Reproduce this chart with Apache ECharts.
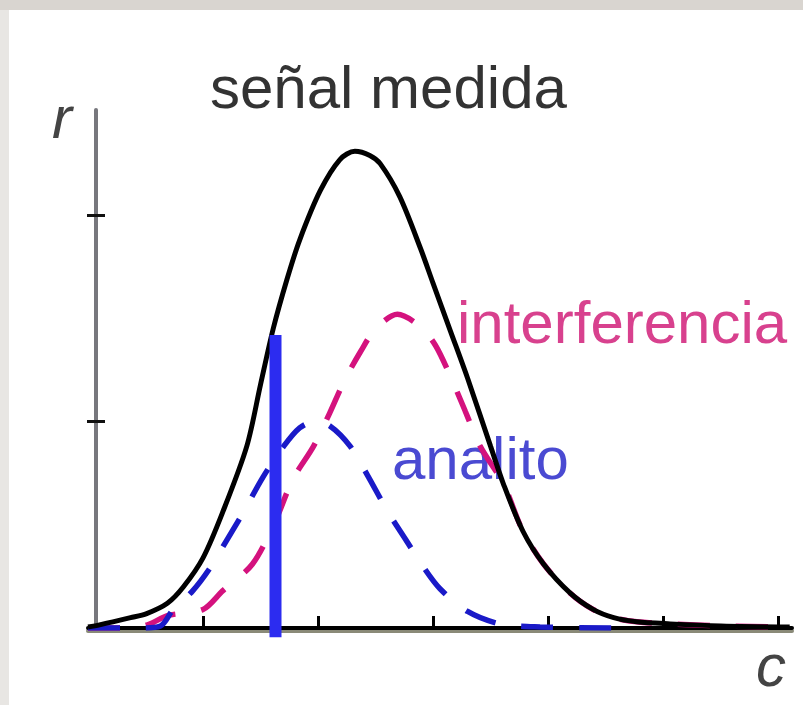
<!DOCTYPE html>
<html><head><meta charset="utf-8">
<script src="https://cdn.jsdelivr.net/npm/echarts@6/dist/echarts.min.js"></script>
<style>
html,body{margin:0;padding:0;background:#dcd9d4;}
#wrap{position:relative;width:803px;height:705px;background:#d9d5d0;overflow:hidden}
#lstrip{position:absolute;left:0;top:10px;width:9px;bottom:0;background:#e8e6e3}
#panel{position:absolute;left:9px;top:10px;right:0;bottom:0;background:#fff}
#chart{position:absolute;left:0;top:0;width:803px;height:705px}
</style></head><body>
<div id="wrap"><div id="lstrip"></div><div id="panel"></div><div id="chart"></div></div>
<script>
// señal medida (black solid)
const senalX = [0, 0.10, 0.37, 0.51, 0.69, 0.83, 1.0, 1.17, 1.38, 1.5, 1.61, 1.73, 1.84, 2.02, 2.19, 2.32, 2.45, 2.54, 2.71, 2.89, 3.0, 3.15, 3.3, 3.5, 3.61, 3.78, 3.96, 4.19, 4.39, 4.57, 4.77, 5.06, 5.5, 6.1];
const senalY = [0.005, 0.015, 0.05, 0.07, 0.12, 0.2, 0.34, 0.56, 0.88, 1.18, 1.45, 1.69, 1.88, 2.12, 2.27, 2.31, 2.29, 2.25, 2.09, 1.84, 1.67, 1.44, 1.21, 0.88, 0.7, 0.47, 0.31, 0.17, 0.09, 0.05, 0.03, 0.02, 0.01, 0.005];
// interferencia (pink dashed)
const interfX = [0, 0.4, 0.54, 0.69, 1.0, 1.17, 1.43, 1.63, 1.78, 1.96, 2.1, 2.23, 2.37, 2.5, 2.69, 2.89, 3.02, 3.15, 3.28, 3.41, 3.61, 3.78, 3.96, 4.19, 4.39, 4.57, 4.77, 5.06, 5.5, 6.1];
const interfY = [0, 0, 0.02, 0.06, 0.09, 0.18, 0.31, 0.52, 0.72, 0.88, 1.04, 1.2, 1.34, 1.45, 1.52, 1.46, 1.37, 1.22, 1.05, 0.88, 0.7, 0.47, 0.31, 0.17, 0.09, 0.05, 0.03, 0.02, 0.01, 0.005];
// analito (blue dashed)
const analitoX = [0, 0.45, 0.63, 0.74, 0.91, 1.06, 1.19, 1.35, 1.52, 1.7, 1.84, 1.97, 2.1, 2.28, 2.43, 2.6, 2.76, 2.91, 3.06, 3.3, 3.58, 3.93, 4.57];
const analitoY = [0, 0, 0.01, 0.09, 0.18, 0.29, 0.41, 0.56, 0.73, 0.88, 0.97, 1.0, 0.98, 0.88, 0.74, 0.57, 0.43, 0.3, 0.19, 0.08, 0.02, 0.005, 0];
// vertical bar (analyte at measured concentration)
const barX = [1.63, 1.63];
const barY = [-0.045, 1.42];
const xTicks = [1, 2, 3, 4, 5, 6];
const yTicks = [1, 2];

const zip = (a, b) => a.map((v, i) => [v, b[i]]);
const chart = echarts.init(document.getElementById('chart'), null, {renderer: 'canvas'});
const FONT = '"Liberation Sans", Arial, sans-serif';
const yBase = {
  type: 'value', min: 0, max: 2.51, interval: 1, offset: -8, position: 'left',
  axisLabel: {show: false}, splitLine: {show: false}
};
chart.setOption({
  animation: false,
  backgroundColor: 'transparent',
  grid: {left: 88, right: 11, top: 110, bottom: 77},
  xAxis: {
    type: 'value', min: 0, max: 6.12, interval: 1,
    axisLine: {lineStyle: {color: '#000', width: 4, shadowColor: 'rgba(125,125,105,0.9)', shadowOffsetY: 3}},
    axisTick: {show: true, inside: true, length: 12, customValues: xTicks, lineStyle: {color: '#000', width: 3}},
    axisLabel: {show: false}, splitLine: {show: false}
  },
  yAxis: [
    Object.assign({}, yBase, {
      axisLine: {show: true, onZero: false, lineStyle: {color: '#77777d', width: 4}},
      axisTick: {show: true, length: 9, customValues: yTicks, lineStyle: {color: '#111', width: 3}}
    }),
    Object.assign({}, yBase, {
      axisLine: {show: false, onZero: false},
      axisTick: {show: true, inside: true, length: 9, customValues: yTicks, lineStyle: {color: '#111', width: 3}}
    })
  ],
  series: [
    {type: 'line', data: zip(interfX, interfY), showSymbol: false, smooth: 0.3, z: 3,
     lineStyle: {color: '#d4127e', width: 5.5, type: [32, 26]}},
    {type: 'line', data: zip(analitoX, analitoY), showSymbol: false, smooth: 0.3, z: 3,
     lineStyle: {color: '#1a1ac8', width: 5.5, type: [32, 26]}},
    {type: 'line', data: zip(senalX, senalY), showSymbol: false, smooth: 0.3, z: 4,
     lineStyle: {color: '#000', width: 5}},
    {type: 'line', data: zip(barX, barY), showSymbol: false, clip: false, z: 5,
     lineStyle: {color: '#2c2cf0', width: 12, cap: 'butt'}}
  ],
  graphic: [
    {type: 'text', x: 210, y: 91, style: {text: 'señal medida', font: '60px ' + FONT, fill: '#333', verticalAlign: 'middle'}},
    {type: 'text', x: 457, y: 326, style: {text: 'interferencia', font: '60px ' + FONT, fill: '#d8418e', verticalAlign: 'middle'}},
    {type: 'text', x: 392, y: 462, style: {text: 'analito', font: '60px ' + FONT, fill: '#4a4ad2', verticalAlign: 'middle'}},
    {type: 'text', x: 52, y: 121, style: {text: 'r', font: 'italic 60px ' + FONT, fill: '#444', verticalAlign: 'middle'}},
    {type: 'text', x: 756, y: 669, style: {text: 'c', font: 'italic 60px ' + FONT, fill: '#444', verticalAlign: 'middle'}}
  ]
});
</script>
</body></html>
